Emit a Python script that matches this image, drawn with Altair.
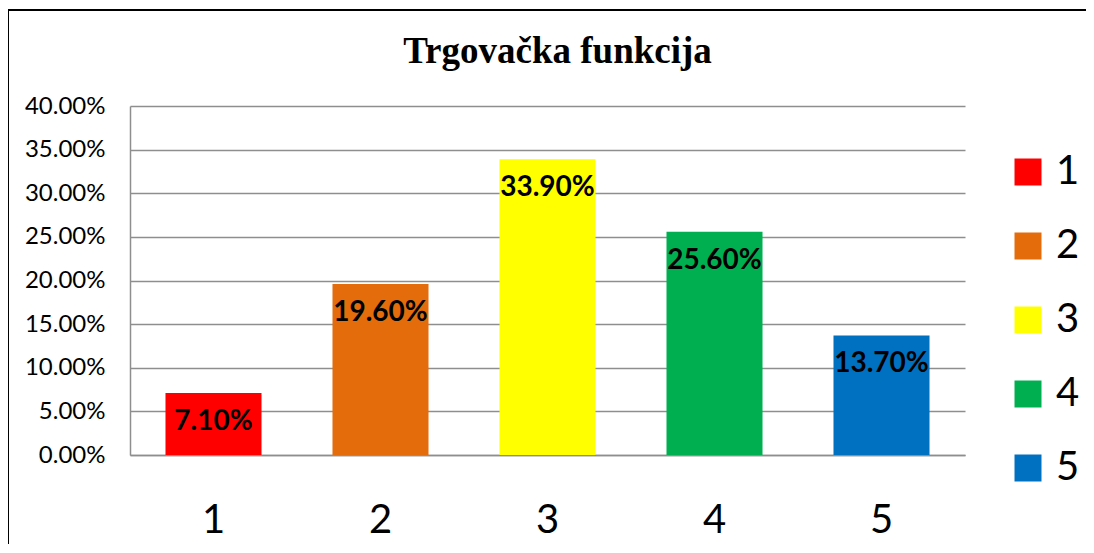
import altair as alt
import pandas as pd

categories = ["1", "2", "3", "4", "5"]
values = [0.071, 0.196, 0.339, 0.256, 0.137]
colors = ["#FF0000", "#E46C0A", "#FFFF00", "#00B050", "#0070C0"]
y_ticks = [0, 0.05, 0.10, 0.15, 0.20, 0.25, 0.30, 0.35, 0.40]
title_text = "Trgovačka funkcija"

df = pd.DataFrame({"cat": categories, "val": values})

GRID = "#8e8e8e"
LABEL_FONT = "Lato"

x_enc = alt.X("cat:N", sort=categories,
              scale=alt.Scale(paddingInner=0.425, paddingOuter=0.2125),
              axis=alt.Axis(title=None, labelAngle=0, labelFontSize=40, labelFont=LABEL_FONT,
                            labelColor="#000000", labelPadding=45, labelBaseline="top",
                            ticks=False, tickSize=0, domainColor=GRID, domainWidth=1.5,
                            grid=False))
y_enc = alt.Y("val:Q", scale=alt.Scale(domain=[0, 0.40], nice=False),
              axis=alt.Axis(title=None, values=y_ticks, format=".2%", labelFontSize=24,
                            labelFont=LABEL_FONT, labelColor="#000000", labelPadding=25,
                            ticks=False, tickSize=0, domainColor=GRID, domainWidth=1.5,
                            gridColor=GRID, gridWidth=1.5))

bars = alt.Chart(df).mark_bar().encode(
    x=x_enc,
    y=y_enc,
    color=alt.Color("cat:N", sort=categories,
                    scale=alt.Scale(domain=categories, range=colors),
                    legend=alt.Legend(title=None, orient="none", legendX=878, legendY=46,
                                      symbolType="square", symbolSize=729, symbolStrokeWidth=0,
                                      labelFontSize=40, labelFont=LABEL_FONT, labelColor="#000000",
                                      labelOffset=8, rowPadding=34, padding=0)),
)

labels = alt.Chart(df).mark_text(
    baseline="middle", align="center", dy=29, fontWeight="bold", fontSize=28,
    font=LABEL_FONT, color="#000000"
).encode(
    x=alt.X("cat:N", sort=categories),
    y="val:Q",
    text=alt.Text("val:Q", format=".2%"),
)

border_df = alt.Data(values=[{"k": 0}])
left_border = alt.Chart(border_df).mark_rule(color="#000000", strokeWidth=2).encode(
    x=alt.value(-122), y=alt.value(-96), y2=alt.value(500))
top_border = alt.Chart(border_df).mark_rule(color="#000000", strokeWidth=2).encode(
    x=alt.value(-122), x2=alt.value(960), y=alt.value(-96))

chart = alt.layer(bars, labels, left_border, top_border).properties(
    width=835, height=349,
    padding={"left": 122, "top": 98, "right": 121, "bottom": 89},
    autosize=alt.AutoSizeParams(type="none"),
    title=alt.TitleParams(title_text, font="Liberation Serif", fontSize=37, fontWeight="bold",
                          color="#000000", anchor="middle", frame="group", offset=-62, dx=10),
).configure_view(stroke=None)

chart.save("out.html", embed_options={"renderer": "svg", "actions": False})
